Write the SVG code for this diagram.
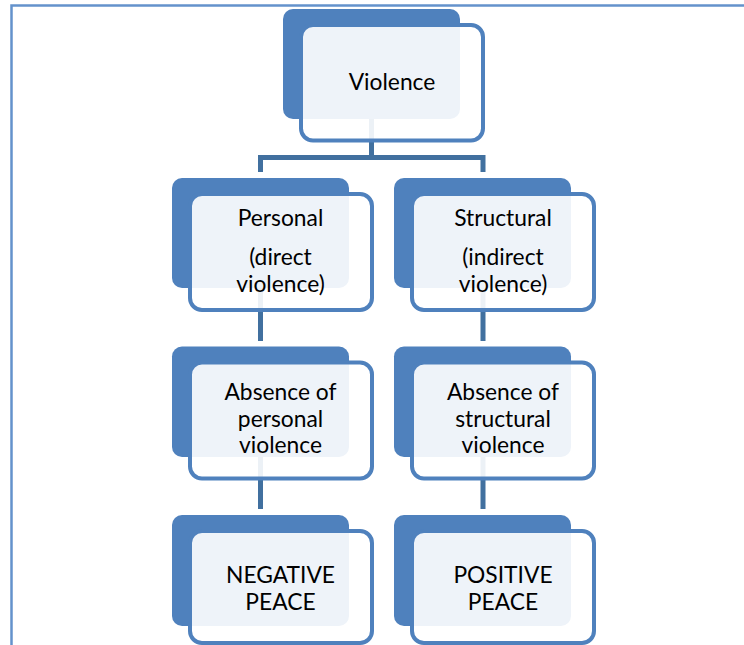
<svg xmlns="http://www.w3.org/2000/svg" width="744" height="645" viewBox="0 0 744 645">
<style>
.back{fill:#4F81BD}
.frame{fill:#FFFFFF;fill-opacity:0.9;stroke:#4F81BD;stroke-width:4}
.conn{stroke:#41709F;stroke-width:5;fill:none;stroke-linecap:butt}
.t{font-family:Lato,"Liberation Sans",sans-serif;font-size:22.8px;fill:#000;text-anchor:middle}
.border{stroke:#6492CC;stroke-width:2.5;fill:none}
</style>
<rect width="744" height="645" fill="#FFFFFF"/>
<path class="border" d="M11.5,645 V5.5 H744"/>
<g id="connectors">
<path class="conn" d="M371.5,119 V157.5 M258,157.5 H485.5 M260.5,157.5 V172 M483,157.5 V172"/>
<path class="conn" d="M260.5,288 V341 M483,288 V341"/>
<path class="conn" d="M260.5,457 V509 M483,457 V509"/>
</g>
<g id="violence">
<rect class="back" x="283" y="9" width="177" height="110" rx="10"/>
<rect class="frame" x="301" y="25" width="182" height="115.5" rx="12"/>
<text class="t" x="392" y="90">Violence</text>
</g>
<g id="personal">
<rect class="back" x="172" y="178" width="177" height="110" rx="10"/>
<rect class="frame" x="190" y="194" width="182" height="116" rx="12"/>
<text class="t" x="280.5" y="226">Personal</text>
<text class="t" x="280.5" y="265">(direct</text>
<text class="t" x="280.5" y="292">violence)</text>
</g>
<g id="structural">
<rect class="back" x="394" y="178" width="177" height="110" rx="10"/>
<rect class="frame" x="412" y="194" width="182" height="116" rx="12"/>
<text class="t" x="503" y="226">Structural</text>
<text class="t" x="503" y="265">(indirect</text>
<text class="t" x="503" y="292">violence)</text>
</g>
<g id="absence-personal">
<rect class="back" x="172" y="346.5" width="177" height="110.5" rx="10"/>
<rect class="frame" x="190" y="362.5" width="182" height="116" rx="12"/>
<text class="t" x="280.5" y="400">Absence of</text>
<text class="t" x="280.5" y="427">personal</text>
<text class="t" x="280.5" y="453">violence</text>
</g>
<g id="absence-structural">
<rect class="back" x="394" y="346.5" width="177" height="110.5" rx="10"/>
<rect class="frame" x="412" y="362.5" width="182" height="116" rx="12"/>
<text class="t" x="503" y="400">Absence of</text>
<text class="t" x="503" y="427">structural</text>
<text class="t" x="503" y="453">violence</text>
</g>
<g id="negative-peace">
<rect class="back" x="172" y="515" width="177" height="111" rx="10"/>
<rect class="frame" x="190" y="531" width="182" height="112" rx="12"/>
<text class="t" x="280.5" y="583">NEGATIVE</text>
<text class="t" x="280.5" y="610">PEACE</text>
</g>
<g id="positive-peace">
<rect class="back" x="394" y="515" width="177" height="111" rx="10"/>
<rect class="frame" x="412" y="531" width="182" height="112" rx="12"/>
<text class="t" x="503" y="583">POSITIVE</text>
<text class="t" x="503" y="610">PEACE</text>
</g>
</svg>
